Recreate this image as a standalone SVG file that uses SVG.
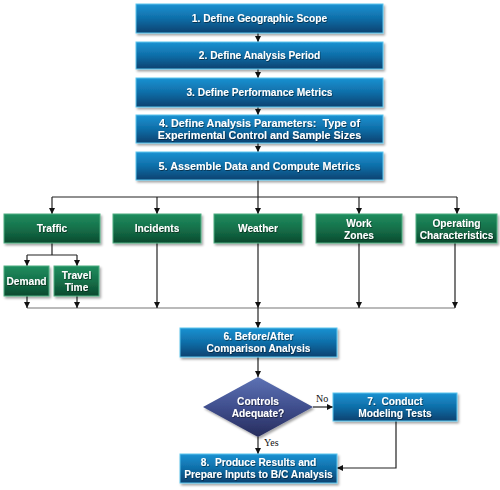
<svg xmlns="http://www.w3.org/2000/svg" width="500" height="490" viewBox="0 0 500 490">
<defs>
<linearGradient id="gb" x1="0" y1="0" x2="0" y2="1">
<stop offset="0" stop-color="#1b92d2"/><stop offset="0.5" stop-color="#0f6ea8"/><stop offset="1" stop-color="#0a4270"/>
</linearGradient>
<linearGradient id="gg" x1="0" y1="0" x2="0" y2="1">
<stop offset="0" stop-color="#1f8d5e"/><stop offset="0.5" stop-color="#15704a"/><stop offset="1" stop-color="#0b4a2e"/>
</linearGradient>
<linearGradient id="gd" x1="0" y1="0" x2="0" y2="1">
<stop offset="0" stop-color="#5d72b4"/><stop offset="0.5" stop-color="#404f8e"/><stop offset="1" stop-color="#262c5c"/>
</linearGradient>
<filter id="sh" x="-10%" y="-20%" width="120%" height="150%">
<feDropShadow dx="1.5" dy="2" stdDeviation="1.2" flood-color="#000" flood-opacity="0.35"/>
</filter>
<filter id="ts" x="-5%" y="-20%" width="110%" height="150%">
<feDropShadow dx="0.6" dy="0.8" stdDeviation="0.4" flood-color="#000" flood-opacity="0.6"/>
</filter>
<marker id="ah" viewBox="0 0 10 10" refX="10" refY="5" markerWidth="6" markerHeight="6" orient="auto" markerUnits="userSpaceOnUse">
<path d="M0,0 L10,5 L0,10 z" fill="#111"/>
</marker>
</defs>
<style>
.b{fill:url(#gb);stroke:#5cc6ee;stroke-width:1;filter:url(#sh)}
.g{fill:url(#gg);stroke:#4fae82;stroke-width:1;filter:url(#sh)}
.d{fill:url(#gd);filter:url(#sh)}
.t{font-family:"Liberation Sans",Arial,sans-serif;font-weight:bold;font-size:10.2px;fill:#fff;text-anchor:middle;filter:url(#ts);white-space:pre}
.t4{font-size:10.8px}
.l{font-family:"Liberation Serif","Times New Roman",serif;font-size:10px;fill:#111}
.c{fill:none;stroke:#222;stroke-width:1.2}
.a{marker-end:url(#ah)}
.gr{fill:none;stroke:#777;stroke-width:1.2}
</style>
<g id="connectors">
<line class="c a" x1="258" y1="33" x2="258" y2="42"/>
<line class="c a" x1="258" y1="69" x2="258" y2="78"/>
<line class="c a" x1="258" y1="107" x2="258" y2="115"/>
<line class="c a" x1="258" y1="143" x2="258" y2="152"/>
<polyline class="c" points="258,180 258,197"/>
<polyline class="c" points="52,197 457,197"/>
<line class="c a" x1="52" y1="197" x2="52" y2="214"/>
<line class="c a" x1="157" y1="197" x2="157" y2="214"/>
<line class="c a" x1="258" y1="197" x2="258" y2="214"/>
<line class="c a" x1="359" y1="197" x2="359" y2="214"/>
<line class="c a" x1="457" y1="197" x2="457" y2="214"/>
<polyline class="c" points="52,243 52,255"/>
<polyline class="c" points="27,255 77,255"/>
<line class="c a" x1="27" y1="255" x2="27" y2="266"/>
<line class="c a" x1="77" y1="255" x2="77" y2="266"/>
<polyline class="gr" points="27,308 455,308"/>
<line class="c a" x1="27" y1="296" x2="27" y2="308"/>
<line class="c a" x1="77" y1="296" x2="77" y2="308"/>
<line class="c a" x1="157" y1="243" x2="157" y2="308"/>
<line class="c a" x1="258" y1="243" x2="258" y2="308"/>
<line class="c a" x1="359" y1="243" x2="359" y2="308"/>
<line class="c a" x1="455" y1="243" x2="455" y2="308"/>
<line class="c a" x1="258" y1="308" x2="258" y2="328"/>
<line class="c a" x1="258" y1="357" x2="258" y2="377"/>
<line class="c a" x1="313" y1="407" x2="333" y2="407"/>
<line class="c a" x1="258" y1="437" x2="258" y2="454"/>
<polyline class="c a" points="396,421 396,468 337,468"/>
<text class="l" x="316" y="402">No</text>
<text class="l" x="264" y="446">Yes</text>
</g>
<g id="n1"><rect class="b" x="136" y="4" width="247" height="29"/><text class="t" x="259.5" y="22">1. Define Geographic Scope</text></g>
<g id="n2"><rect class="b" x="136" y="42" width="247" height="27"/><text class="t" x="259.5" y="59">2. Define Analysis Period</text></g>
<g id="n3"><rect class="b" x="136" y="78" width="247" height="29"/><text class="t" x="259.5" y="95.5">3. Define Performance Metrics</text></g>
<g id="n4"><rect class="b" x="136" y="115" width="247" height="28"/><text class="t t4" x="259.5" y="127" xml:space="preserve">4. Define Analysis Parameters:  Type of</text><text class="t t4" x="259.5" y="139">Experimental Control and Sample Sizes</text></g>
<g id="n5"><rect class="b" x="136" y="152" width="247" height="28"/><text class="t t4" x="259.5" y="170">5. Assemble Data and Compute Metrics</text></g>
<g id="traffic"><rect class="g" x="4" y="214" width="96" height="29"/><text class="t" x="52" y="232">Traffic</text></g>
<g id="incidents"><rect class="g" x="113" y="214" width="88" height="29"/><text class="t" x="157" y="232">Incidents</text></g>
<g id="weather"><rect class="g" x="214" y="214" width="88" height="29"/><text class="t" x="258" y="232">Weather</text></g>
<g id="workzones"><rect class="g" x="316" y="214" width="86" height="29"/><text class="t" x="359" y="227">Work</text><text class="t" x="359" y="238.5">Zones</text></g>
<g id="operating"><rect class="g" x="416" y="214" width="81" height="29"/><text class="t" x="456.5" y="227">Operating</text><text class="t" x="456.5" y="238.5">Characteristics</text></g>
<g id="demand"><rect class="g" x="4" y="266" width="45" height="30"/><text class="t" x="26.5" y="284.5">Demand</text></g>
<g id="traveltime"><rect class="g" x="54" y="266" width="45" height="30"/><text class="t" x="76.5" y="279">Travel</text><text class="t" x="76.5" y="290.5">Time</text></g>
<g id="n6"><rect class="b" x="180" y="328" width="157" height="29"/><text class="t" x="258.5" y="340">6. Before/After</text><text class="t" x="258.5" y="352">Comparison Analysis</text></g>
<g id="decision"><polygon class="d" points="258,377 313,407 258,437 203,407"/><text class="t" x="258" y="405">Controls</text><text class="t" x="258" y="417">Adequate?</text></g>
<g id="n7"><rect class="b" x="333" y="393" width="124" height="28"/><text class="t" x="395" y="405" xml:space="preserve">7.  Conduct</text><text class="t" x="395" y="417">Modeling Tests</text></g>
<g id="n8"><rect class="b" x="180" y="454" width="157" height="29"/><text class="t" x="258.5" y="466" xml:space="preserve">8.  Produce Results and</text><text class="t" x="258.5" y="478">Prepare Inputs to B/C Analysis</text></g>
</svg>
